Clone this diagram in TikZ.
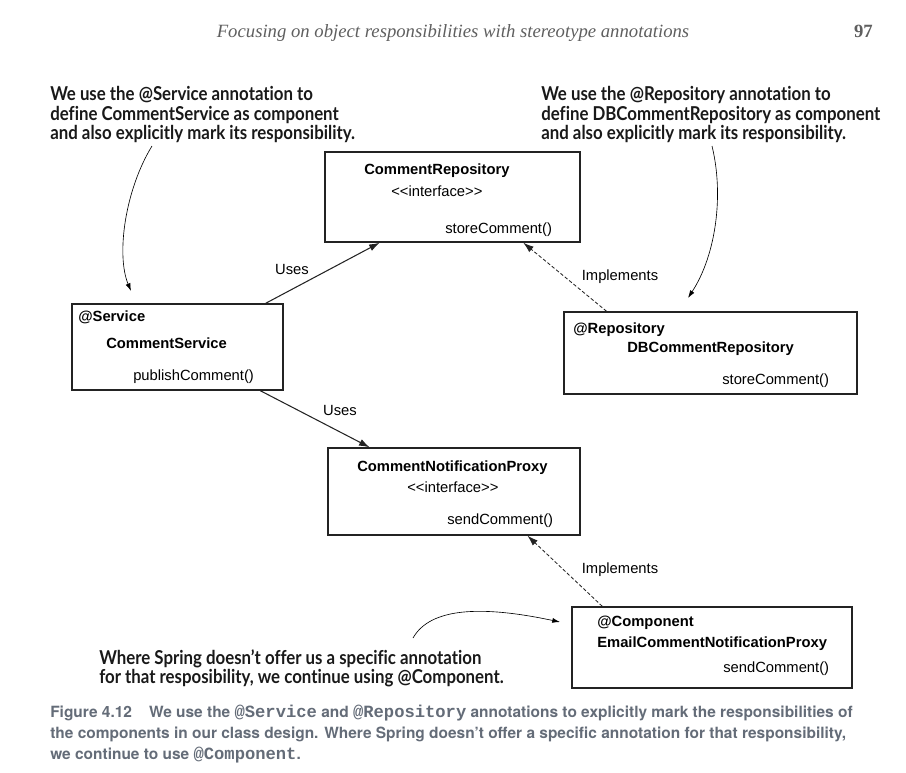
\documentclass[tikz,border=0pt]{standalone}
\usepackage{fontspec}
\usepackage{xcolor}
\usetikzlibrary{arrows.meta}
\usetikzlibrary{positioning}
\usetikzlibrary{calc}
\usetikzlibrary{fit}
\newfontfamily\boxfont{Liberation Sans}
\newfontfamily\notefont[FakeStretch=0.88, Ligatures=NoCommon]{Lato}
\newfontfamily\headfont{Liberation Serif}
\newfontfamily\capfont{TeX Gyre Heros}
\newfontfamily\capmono{Liberation Mono}
\newcommand{\capcode}[1]{{\capmono\bfseries\fontsize{12.2}{15}\selectfont #1}}
\definecolor{boxline}{RGB}{35,35,35}
\definecolor{capcolor}{RGB}{100,108,120}
\definecolor{headcolor}{RGB}{95,95,95}

\begin{document}
\begin{tikzpicture}[x=0.025cm, y=-0.025cm,
	classbox/.style={draw=boxline, line width=1pt, inner sep=0pt},
	member/.style={anchor=base west, inner sep=0pt, font=\boxfont\fontsize{10.5}{12}\selectfont},
	classname/.style={member, font=\boxfont\bfseries\fontsize{10.5}{12}\selectfont},
	edgelabel/.style={member, anchor=base},
	uses/.style={draw=boxline, line width=0.75pt, -{Latex[length=7.5pt,width=5pt]}},
	implements/.style={draw=boxline, line width=0.6pt, dash pattern=on 2.5pt off 1.5pt, -{Latex[length=7.5pt,width=5pt]}},
	note/.style={anchor=north west, inner sep=0pt, align=left, text=black!90, font=\notefont\bfseries\fontsize{13.6}{13.9}\selectfont},
	pointer/.style={draw=black, line width=0.45pt, -{Latex[length=5.5pt,width=3.5pt]}}]
		\useasboundingbox (0,0) rectangle (906,772);
		
		%page header
		\node[anchor=base, inner sep=0pt, text=headcolor, font=\headfont\itshape\fontsize{13.3}{15}\selectfont] (header) at (453,37) {Focusing on object responsibilities with stereotype annotations};
		\node[anchor=base east, inner sep=0pt, text=headcolor, font=\headfont\bfseries\fontsize{13.3}{15}\selectfont] (pageno) at (873,37) {97};
		
		%class boxes
		\node[classbox, fit={(325,152) (580,242)}] (repo) {};
		\node[classbox, fit={(72,304) (283,390)}] (svc) {};
		\node[classbox, fit={(564,312) (857,394)}] (dbrepo) {};
		\node[classbox, fit={(328,448) (580,535)}] (proxy) {};
		\node[classbox, fit={(572,607) (852,688)}] (email) {};
		
		%box texts
		\node[classname] (repo-name) at (364,174) {CommentRepository};
		\node[member] (repo-type) at (391,196) {<{}<interface>{}>};
		\node[member] (repo-op) at (445,233) {storeComment()};
		
		\node[classname] (svc-tag) at (78,321) {@Service};
		\node[classname] (svc-name) at (106,348) {CommentService};
		\node[member] (svc-op) at (133,380) {publishComment()};
		
		\node[classname] (dbrepo-tag) at (573,333) {@Repository};
		\node[classname] (dbrepo-name) at (627,352) {DBCommentRepository};
		\node[member] (dbrepo-op) at (722,384) {storeComment()};
		
		\node[classname] (proxy-name) at (357,471) {CommentNotificationProxy};
		\node[member] (proxy-type) at (407,492) {<{}<interface>{}>};
		\node[member] (proxy-op) at (447,524) {sendComment()};
		
		\node[classname] (email-tag) at (597,626) {@Component};
		\node[classname] (email-name) at (597,647) {EmailCommentNotificationProxy};
		\node[member] (email-op) at (723,672) {sendComment()};
		
		%connectors
		\draw[uses] ($(svc.north west)!0.915!(svc.north east)$) -- ($(repo.south west)!0.216!(repo.south east)$);
		\draw[uses] ($(svc.south west)!0.89!(svc.south east)$) -- ($(proxy.north west)!0.167!(proxy.north east)$);
		\draw[implements] ($(dbrepo.north west)!0.147!(dbrepo.north east)$) -- ($(repo.south west)!0.776!(repo.south east)$);
		\draw[implements] ($(email.north west)!0.11!(email.north east)$) -- ($(proxy.south west)!0.79!(proxy.south east)$);
		\node[edgelabel] (uses-repo) at (292,274) {Uses};
		\node[edgelabel] (uses-proxy) at (340,415) {Uses};
		\node[edgelabel] (impl-repo) at (620,280) {Implements};
		\node[edgelabel] (impl-proxy) at (620,573) {Implements};
		
		%notes
		\node[note] (note-svc) at (50,86) {We use the @Service annotation to\\define CommentService as component\\and also explicitly mark its responsibility.};
		\node[note] (note-repo) at (541,86) {We use the @Repository annotation to\\define DBCommentRepository as component\\and also explicitly mark its responsibility.};
		\node[note] (note-comp) at (99,649) {Where Spring doesn’t offer us a specific annotation\\for that resposibility, we continue using @Component.};
		
		%note pointers
		\coordinate (svc-from) at (152,146);
		\coordinate (svc-to) at (131,291);
		\coordinate (repo-from) at (712,146);
		\coordinate (repo-to) at (688,298);
		\coordinate (comp-from) at (413,638);
		\coordinate (comp-to) at (560,622);
		\draw[pointer] (svc-from) .. controls (125,190) and (116,255) .. (svc-to);
		\draw[pointer] (repo-from) .. controls (724,195) and (716,255) .. (repo-to);
		\draw[pointer] (comp-from) .. controls (430,608) and (480,605) .. (comp-to);
		
		%caption
		\node[anchor=north west, inner sep=0pt, align=left, text=capcolor, font=\capfont\bfseries\fontsize{11}{15}\selectfont] (caption) at (50,705) {Figure 4.12\hspace{1.1em}We use the \capcode{@Service} and \capcode{@Repository} annotations to explicitly mark the responsibilities of\\the components in our class design. Where Spring doesn’t offer a specific annotation for that responsibility,\\we continue to use \capcode{@Component}.};
	\end{tikzpicture}
\end{document}
